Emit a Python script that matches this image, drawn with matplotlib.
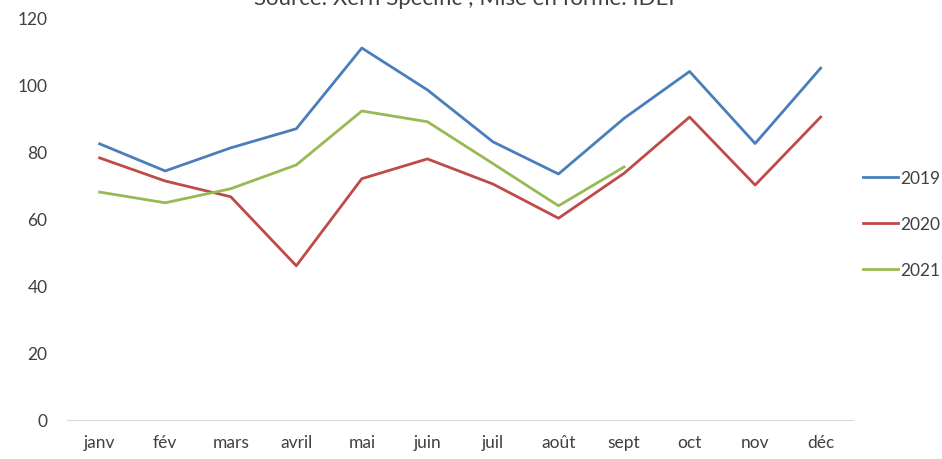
import matplotlib.pyplot as plt

plt.rcParams['font.family'] = ['Lato', 'DejaVu Sans']

months = ["janv", "fév", "mars", "avril", "mai", "juin",
          "juil", "août", "sept", "oct", "nov", "déc"]

v2019 = [82.4, 74.3, 81.2, 86.9, 111.0, 98.5,
         83.0, 73.4, 90.0, 104.0, 82.5, 105.0]
v2020 = [78.2, 71.3, 66.6, 46.0, 72.0, 77.9,
         70.4, 60.2, 73.6, 90.4, 70.1, 90.4]
v2021 = [68.0, 64.8, 69.0, 76.1, 92.2, 89.0,
         76.5, 63.9, 75.5]

fig = plt.figure(figsize=(9.42, 4.6), dpi=100)
ax = fig.add_axes([0.071, 0.085, 0.835, 0.874])

ax.plot(months, v2019, color='#4A7EBB', lw=2.0, label='2019')
ax.plot(months, v2020, color='#BE4B48', lw=2.0, label='2020')
ax.plot(months[:len(v2021)], v2021, color='#98B954', lw=2.0, label='2021')

ax.set_xlim(-0.5, 11.5)
ax.set_ylim(0, 120)
ax.set_yticks(range(0, 121, 20))
for s in ['top', 'right', 'left']:
    ax.spines[s].set_visible(False)
ax.spines['bottom'].set_color('#D9D9D9')
ax.tick_params(axis='both', length=0, labelsize=12.5, colors='#404040')
ax.tick_params(axis='y', pad=14)
ax.tick_params(axis='x', pad=10)

fig.text(468 / 942, 1 - 5 / 460, "Source: Xerfi Specific ; Mise en forme: IDEP",
         ha='center', va='baseline', fontsize=16, color='#404040')

fig.legend(loc='center left', bbox_to_anchor=(0.9, 1 - 225 / 460),
           frameon=False, fontsize=12.5, handlelength=2.0, handletextpad=0.1,
           labelspacing=1.75, labelcolor='#404040')

fig.savefig('out.png', dpi=100)
